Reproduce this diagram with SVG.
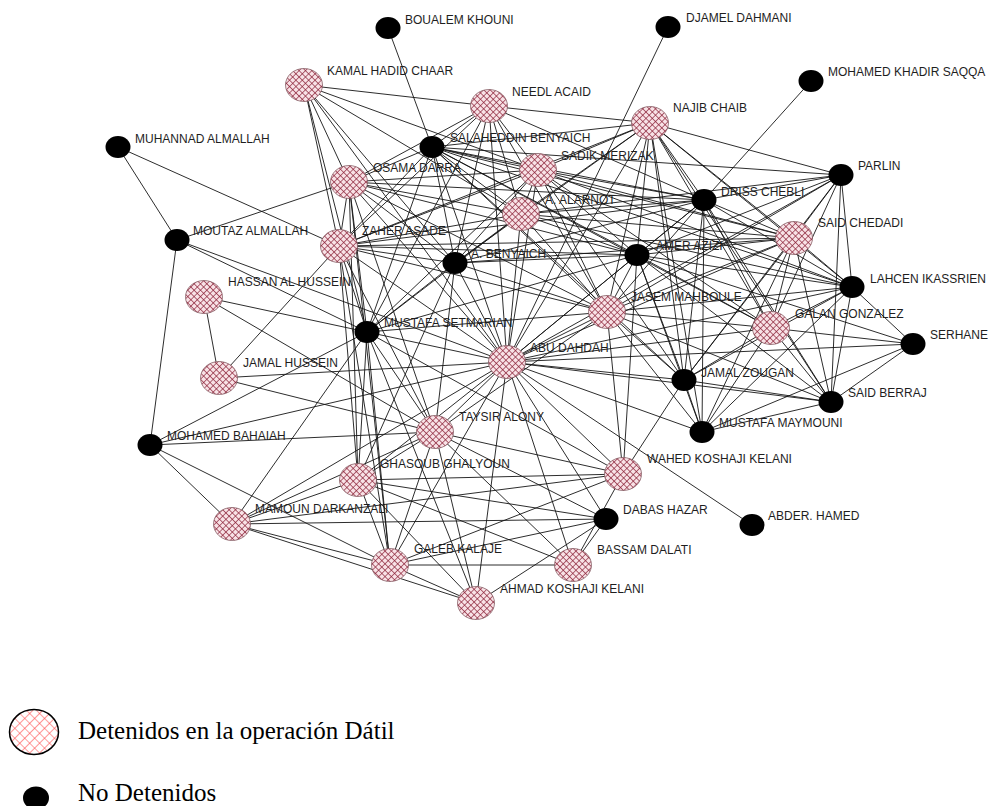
<svg xmlns="http://www.w3.org/2000/svg" width="988" height="806" viewBox="0 0 988 806">
<defs>
<pattern id="hatch" patternUnits="userSpaceOnUse" width="4.5" height="4.5" patternTransform="rotate(45)">
<rect width="4.5" height="4.5" fill="#f8e2e6"/>
<path d="M0 0H4.5M0 0V4.5" stroke="#8a1f35" stroke-width="1.3"/>
</pattern>
<pattern id="hatchL" patternUnits="userSpaceOnUse" width="7" height="7" patternTransform="rotate(45)">
<rect width="7" height="7" fill="#ffffff"/>
<path d="M0 0H7M0 0V7" stroke="#ff4040" stroke-width="1.1"/>
</pattern>
<style>
.e line{stroke:#151515;stroke-width:0.9}
.p ellipse{fill:url(#hatch);stroke:#7a5058;stroke-width:0.7}
.b ellipse{fill:#000}
.l{font-family:"Liberation Sans",Arial,sans-serif;font-size:12px;fill:#1e1e1e}
.lg{font-family:"Liberation Serif","Times New Roman",serif;font-size:25px;fill:#000}
</style>
</defs>
<rect width="988" height="806" fill="#fff"/>
<g id="connectors" class="e">
<line x1="388" y1="28" x2="432" y2="147"/>
<line x1="432" y1="147" x2="507" y2="362"/>
<line x1="668" y1="27" x2="507" y2="362"/>
<line x1="811" y1="81" x2="704" y2="200"/>
<line x1="118" y1="147" x2="177" y2="240"/>
<line x1="118" y1="147" x2="339" y2="246"/>
<line x1="177" y1="240" x2="349" y2="182"/>
<line x1="177" y1="240" x2="367" y2="332"/>
<line x1="177" y1="240" x2="507" y2="362"/>
<line x1="177" y1="240" x2="150" y2="445"/>
<line x1="204" y1="297" x2="219" y2="378"/>
<line x1="204" y1="297" x2="367" y2="332"/>
<line x1="204" y1="297" x2="435" y2="432"/>
<line x1="219" y1="378" x2="339" y2="246"/>
<line x1="219" y1="378" x2="507" y2="362"/>
<line x1="219" y1="378" x2="435" y2="432"/>
<line x1="150" y1="445" x2="367" y2="332"/>
<line x1="150" y1="445" x2="507" y2="362"/>
<line x1="150" y1="445" x2="435" y2="432"/>
<line x1="150" y1="445" x2="232" y2="524"/>
<line x1="150" y1="445" x2="390" y2="565"/>
<line x1="232" y1="524" x2="367" y2="332"/>
<line x1="232" y1="524" x2="358" y2="480"/>
<line x1="232" y1="524" x2="390" y2="565"/>
<line x1="232" y1="524" x2="476" y2="603"/>
<line x1="232" y1="524" x2="606" y2="519"/>
<line x1="232" y1="524" x2="507" y2="362"/>
<line x1="232" y1="524" x2="623" y2="474"/>
<line x1="232" y1="524" x2="435" y2="432"/>
<line x1="752" y1="525" x2="507" y2="362"/>
<line x1="913" y1="344" x2="852" y2="287"/>
<line x1="913" y1="344" x2="637" y2="255"/>
<line x1="913" y1="344" x2="507" y2="362"/>
<line x1="913" y1="344" x2="831" y2="402"/>
<line x1="913" y1="344" x2="702" y2="432"/>
<line x1="913" y1="344" x2="771" y2="328"/>
<line x1="432" y1="147" x2="349" y2="182"/>
<line x1="432" y1="147" x2="339" y2="246"/>
<line x1="432" y1="147" x2="367" y2="332"/>
<line x1="432" y1="147" x2="455" y2="263"/>
<line x1="432" y1="147" x2="538" y2="170"/>
<line x1="432" y1="147" x2="521" y2="214"/>
<line x1="432" y1="147" x2="489" y2="106"/>
<line x1="432" y1="147" x2="650" y2="123"/>
<line x1="432" y1="147" x2="704" y2="200"/>
<line x1="432" y1="147" x2="637" y2="255"/>
<line x1="432" y1="147" x2="607" y2="312"/>
<line x1="432" y1="147" x2="794" y2="238"/>
<line x1="432" y1="147" x2="852" y2="287"/>
<line x1="432" y1="147" x2="684" y2="380"/>
<line x1="432" y1="147" x2="841" y2="175"/>
<line x1="432" y1="147" x2="771" y2="328"/>
<line x1="538" y1="170" x2="489" y2="106"/>
<line x1="538" y1="170" x2="521" y2="214"/>
<line x1="538" y1="170" x2="349" y2="182"/>
<line x1="538" y1="170" x2="339" y2="246"/>
<line x1="538" y1="170" x2="455" y2="263"/>
<line x1="538" y1="170" x2="367" y2="332"/>
<line x1="538" y1="170" x2="507" y2="362"/>
<line x1="538" y1="170" x2="607" y2="312"/>
<line x1="538" y1="170" x2="637" y2="255"/>
<line x1="538" y1="170" x2="704" y2="200"/>
<line x1="538" y1="170" x2="794" y2="238"/>
<line x1="538" y1="170" x2="650" y2="123"/>
<line x1="538" y1="170" x2="852" y2="287"/>
<line x1="538" y1="170" x2="684" y2="380"/>
<line x1="538" y1="170" x2="304" y2="85"/>
<line x1="538" y1="170" x2="771" y2="328"/>
<line x1="521" y1="214" x2="489" y2="106"/>
<line x1="521" y1="214" x2="349" y2="182"/>
<line x1="521" y1="214" x2="339" y2="246"/>
<line x1="521" y1="214" x2="455" y2="263"/>
<line x1="521" y1="214" x2="367" y2="332"/>
<line x1="521" y1="214" x2="507" y2="362"/>
<line x1="521" y1="214" x2="607" y2="312"/>
<line x1="521" y1="214" x2="637" y2="255"/>
<line x1="521" y1="214" x2="704" y2="200"/>
<line x1="521" y1="214" x2="794" y2="238"/>
<line x1="521" y1="214" x2="852" y2="287"/>
<line x1="521" y1="214" x2="304" y2="85"/>
<line x1="521" y1="214" x2="650" y2="123"/>
<line x1="521" y1="214" x2="841" y2="175"/>
<line x1="489" y1="106" x2="349" y2="182"/>
<line x1="489" y1="106" x2="339" y2="246"/>
<line x1="489" y1="106" x2="455" y2="263"/>
<line x1="489" y1="106" x2="367" y2="332"/>
<line x1="489" y1="106" x2="507" y2="362"/>
<line x1="489" y1="106" x2="607" y2="312"/>
<line x1="489" y1="106" x2="650" y2="123"/>
<line x1="489" y1="106" x2="704" y2="200"/>
<line x1="489" y1="106" x2="304" y2="85"/>
<line x1="650" y1="123" x2="339" y2="246"/>
<line x1="650" y1="123" x2="704" y2="200"/>
<line x1="650" y1="123" x2="637" y2="255"/>
<line x1="650" y1="123" x2="607" y2="312"/>
<line x1="650" y1="123" x2="507" y2="362"/>
<line x1="650" y1="123" x2="684" y2="380"/>
<line x1="650" y1="123" x2="702" y2="432"/>
<line x1="650" y1="123" x2="852" y2="287"/>
<line x1="650" y1="123" x2="794" y2="238"/>
<line x1="650" y1="123" x2="771" y2="328"/>
<line x1="650" y1="123" x2="841" y2="175"/>
<line x1="650" y1="123" x2="831" y2="402"/>
<line x1="650" y1="123" x2="455" y2="263"/>
<line x1="704" y1="200" x2="455" y2="263"/>
<line x1="704" y1="200" x2="339" y2="246"/>
<line x1="704" y1="200" x2="349" y2="182"/>
<line x1="704" y1="200" x2="637" y2="255"/>
<line x1="704" y1="200" x2="607" y2="312"/>
<line x1="704" y1="200" x2="794" y2="238"/>
<line x1="704" y1="200" x2="852" y2="287"/>
<line x1="704" y1="200" x2="771" y2="328"/>
<line x1="704" y1="200" x2="684" y2="380"/>
<line x1="704" y1="200" x2="702" y2="432"/>
<line x1="704" y1="200" x2="507" y2="362"/>
<line x1="704" y1="200" x2="841" y2="175"/>
<line x1="704" y1="200" x2="831" y2="402"/>
<line x1="841" y1="175" x2="637" y2="255"/>
<line x1="841" y1="175" x2="607" y2="312"/>
<line x1="841" y1="175" x2="794" y2="238"/>
<line x1="841" y1="175" x2="771" y2="328"/>
<line x1="841" y1="175" x2="852" y2="287"/>
<line x1="841" y1="175" x2="831" y2="402"/>
<line x1="841" y1="175" x2="684" y2="380"/>
<line x1="841" y1="175" x2="507" y2="362"/>
<line x1="637" y1="255" x2="455" y2="263"/>
<line x1="637" y1="255" x2="339" y2="246"/>
<line x1="637" y1="255" x2="367" y2="332"/>
<line x1="637" y1="255" x2="607" y2="312"/>
<line x1="637" y1="255" x2="507" y2="362"/>
<line x1="637" y1="255" x2="794" y2="238"/>
<line x1="637" y1="255" x2="852" y2="287"/>
<line x1="637" y1="255" x2="771" y2="328"/>
<line x1="637" y1="255" x2="684" y2="380"/>
<line x1="637" y1="255" x2="702" y2="432"/>
<line x1="637" y1="255" x2="831" y2="402"/>
<line x1="637" y1="255" x2="623" y2="474"/>
<line x1="637" y1="255" x2="349" y2="182"/>
<line x1="607" y1="312" x2="507" y2="362"/>
<line x1="607" y1="312" x2="455" y2="263"/>
<line x1="607" y1="312" x2="339" y2="246"/>
<line x1="607" y1="312" x2="367" y2="332"/>
<line x1="607" y1="312" x2="349" y2="182"/>
<line x1="607" y1="312" x2="794" y2="238"/>
<line x1="607" y1="312" x2="852" y2="287"/>
<line x1="607" y1="312" x2="771" y2="328"/>
<line x1="607" y1="312" x2="684" y2="380"/>
<line x1="607" y1="312" x2="702" y2="432"/>
<line x1="607" y1="312" x2="435" y2="432"/>
<line x1="607" y1="312" x2="831" y2="402"/>
<line x1="607" y1="312" x2="623" y2="474"/>
<line x1="794" y1="238" x2="507" y2="362"/>
<line x1="794" y1="238" x2="684" y2="380"/>
<line x1="794" y1="238" x2="831" y2="402"/>
<line x1="794" y1="238" x2="702" y2="432"/>
<line x1="794" y1="238" x2="455" y2="263"/>
<line x1="794" y1="238" x2="771" y2="328"/>
<line x1="794" y1="238" x2="852" y2="287"/>
<line x1="794" y1="238" x2="339" y2="246"/>
<line x1="852" y1="287" x2="771" y2="328"/>
<line x1="852" y1="287" x2="831" y2="402"/>
<line x1="852" y1="287" x2="684" y2="380"/>
<line x1="852" y1="287" x2="507" y2="362"/>
<line x1="852" y1="287" x2="702" y2="432"/>
<line x1="771" y1="328" x2="831" y2="402"/>
<line x1="771" y1="328" x2="684" y2="380"/>
<line x1="771" y1="328" x2="702" y2="432"/>
<line x1="771" y1="328" x2="507" y2="362"/>
<line x1="831" y1="402" x2="684" y2="380"/>
<line x1="831" y1="402" x2="702" y2="432"/>
<line x1="831" y1="402" x2="507" y2="362"/>
<line x1="684" y1="380" x2="507" y2="362"/>
<line x1="684" y1="380" x2="702" y2="432"/>
<line x1="702" y1="432" x2="507" y2="362"/>
<line x1="455" y1="263" x2="349" y2="182"/>
<line x1="455" y1="263" x2="339" y2="246"/>
<line x1="455" y1="263" x2="367" y2="332"/>
<line x1="455" y1="263" x2="507" y2="362"/>
<line x1="455" y1="263" x2="435" y2="432"/>
<line x1="455" y1="263" x2="358" y2="480"/>
<line x1="455" y1="263" x2="304" y2="85"/>
<line x1="349" y1="182" x2="304" y2="85"/>
<line x1="349" y1="182" x2="339" y2="246"/>
<line x1="349" y1="182" x2="367" y2="332"/>
<line x1="349" y1="182" x2="507" y2="362"/>
<line x1="349" y1="182" x2="358" y2="480"/>
<line x1="349" y1="182" x2="435" y2="432"/>
<line x1="349" y1="182" x2="390" y2="565"/>
<line x1="339" y1="246" x2="304" y2="85"/>
<line x1="339" y1="246" x2="367" y2="332"/>
<line x1="339" y1="246" x2="507" y2="362"/>
<line x1="339" y1="246" x2="358" y2="480"/>
<line x1="339" y1="246" x2="435" y2="432"/>
<line x1="339" y1="246" x2="390" y2="565"/>
<line x1="367" y1="332" x2="304" y2="85"/>
<line x1="367" y1="332" x2="507" y2="362"/>
<line x1="367" y1="332" x2="435" y2="432"/>
<line x1="367" y1="332" x2="358" y2="480"/>
<line x1="367" y1="332" x2="390" y2="565"/>
<line x1="367" y1="332" x2="623" y2="474"/>
<line x1="367" y1="332" x2="476" y2="603"/>
<line x1="304" y1="85" x2="507" y2="362"/>
<line x1="507" y1="362" x2="435" y2="432"/>
<line x1="507" y1="362" x2="358" y2="480"/>
<line x1="507" y1="362" x2="623" y2="474"/>
<line x1="507" y1="362" x2="390" y2="565"/>
<line x1="507" y1="362" x2="573" y2="565"/>
<line x1="507" y1="362" x2="476" y2="603"/>
<line x1="507" y1="362" x2="606" y2="519"/>
<line x1="435" y1="432" x2="358" y2="480"/>
<line x1="435" y1="432" x2="390" y2="565"/>
<line x1="435" y1="432" x2="476" y2="603"/>
<line x1="435" y1="432" x2="573" y2="565"/>
<line x1="435" y1="432" x2="623" y2="474"/>
<line x1="435" y1="432" x2="606" y2="519"/>
<line x1="358" y1="480" x2="390" y2="565"/>
<line x1="358" y1="480" x2="476" y2="603"/>
<line x1="358" y1="480" x2="573" y2="565"/>
<line x1="358" y1="480" x2="606" y2="519"/>
<line x1="358" y1="480" x2="623" y2="474"/>
<line x1="390" y1="565" x2="476" y2="603"/>
<line x1="390" y1="565" x2="573" y2="565"/>
<line x1="390" y1="565" x2="606" y2="519"/>
<line x1="390" y1="565" x2="623" y2="474"/>
<line x1="476" y1="603" x2="606" y2="519"/>
<line x1="573" y1="565" x2="606" y2="519"/>
<line x1="573" y1="565" x2="623" y2="474"/>
<line x1="684" y1="380" x2="623" y2="474"/>
</g>
<g id="n-kamal-hadid-chaar" class="p"><ellipse cx="304" cy="85" rx="18.5" ry="16.5"/><text class="l" x="327" y="75">KAMAL HADID CHAAR</text></g>
<g id="n-needl-acaid" class="p"><ellipse cx="489" cy="106" rx="18.5" ry="16.5"/><text class="l" x="512" y="96">NEEDL ACAID</text></g>
<g id="n-najib-chaib" class="p"><ellipse cx="650" cy="123" rx="18.5" ry="16.5"/><text class="l" x="673" y="112">NAJIB CHAIB</text></g>
<g id="n-osama-darra" class="p"><ellipse cx="349" cy="182" rx="18.5" ry="16.5"/><text class="l" x="373" y="172">OSAMA DARRA</text></g>
<g id="n-sadik-merizak" class="p"><ellipse cx="538" cy="170" rx="18.5" ry="16.5"/><text class="l" x="561" y="160">SADIK MERIZAK</text></g>
<g id="n-a-alarnot" class="p"><ellipse cx="521" cy="214" rx="18.5" ry="16.5"/><text class="l" x="545" y="204">A. ALARNOT</text></g>
<g id="n-zaher-asade" class="p"><ellipse cx="339" cy="246" rx="18.5" ry="16.5"/><text class="l" x="362" y="235">ZAHER ASADE</text></g>
<g id="n-said-chedadi" class="p"><ellipse cx="794" cy="238" rx="18.5" ry="16.5"/><text class="l" x="818" y="227">SAID CHEDADI</text></g>
<g id="n-hassan-al-hussein" class="p"><ellipse cx="204" cy="297" rx="18.5" ry="16.5"/><text class="l" x="228" y="286">HASSAN AL HUSSEIN</text></g>
<g id="n-jasem-mahboule" class="p"><ellipse cx="607" cy="312" rx="18.5" ry="16.5"/><text class="l" x="631" y="301">JASEM MAHBOULE</text></g>
<g id="n-galan-gonzalez" class="p"><ellipse cx="771" cy="328" rx="18.5" ry="16.5"/><text class="l" x="795" y="318">GALAN GONZALEZ</text></g>
<g id="n-abu-dahdah" class="p"><ellipse cx="507" cy="362" rx="18.5" ry="16.5"/><text class="l" x="530" y="352">ABU DAHDAH</text></g>
<g id="n-jamal-hussein" class="p"><ellipse cx="219" cy="378" rx="18.5" ry="16.5"/><text class="l" x="243" y="367">JAMAL HUSSEIN</text></g>
<g id="n-taysir-alony" class="p"><ellipse cx="435" cy="432" rx="18.5" ry="16.5"/><text class="l" x="459" y="421">TAYSIR ALONY</text></g>
<g id="n-ghasoub-ghalyoun" class="p"><ellipse cx="358" cy="480" rx="18.5" ry="16.5"/><text class="l" x="380" y="468">GHASOUB GHALYOUN</text></g>
<g id="n-wahed-koshaji-kelani" class="p"><ellipse cx="623" cy="474" rx="18.5" ry="16.5"/><text class="l" x="647" y="463">WAHED KOSHAJI KELANI</text></g>
<g id="n-mamoun-darkanzali" class="p"><ellipse cx="232" cy="524" rx="18.5" ry="16.5"/><text class="l" x="255" y="513">MAMOUN DARKANZALI</text></g>
<g id="n-galeb-kalaje" class="p"><ellipse cx="390" cy="565" rx="18.5" ry="16.5"/><text class="l" x="414" y="553">GALEB KALAJE</text></g>
<g id="n-bassam-dalati" class="p"><ellipse cx="573" cy="565" rx="18.5" ry="16.5"/><text class="l" x="597" y="554">BASSAM DALATI</text></g>
<g id="n-ahmad-koshaji-kelani" class="p"><ellipse cx="476" cy="603" rx="18.5" ry="16.5"/><text class="l" x="500" y="593">AHMAD KOSHAJI KELANI</text></g>
<g id="n-boualem-khouni" class="b"><ellipse cx="388" cy="28" rx="12.5" ry="11"/><text class="l" x="405" y="24">BOUALEM KHOUNI</text></g>
<g id="n-djamel-dahmani" class="b"><ellipse cx="668" cy="27" rx="12.5" ry="11"/><text class="l" x="686" y="22">DJAMEL DAHMANI</text></g>
<g id="n-mohamed-khadir-saqqa" class="b"><ellipse cx="811" cy="81" rx="12.5" ry="11"/><text class="l" x="828" y="76">MOHAMED KHADIR SAQQA</text></g>
<g id="n-muhannad-almallah" class="b"><ellipse cx="118" cy="147" rx="12.5" ry="11"/><text class="l" x="135" y="143">MUHANNAD ALMALLAH</text></g>
<g id="n-salaheddin-benyaich" class="b"><ellipse cx="432" cy="147" rx="12.5" ry="11"/><text class="l" x="450" y="142">SALAHEDDIN BENYAICH</text></g>
<g id="n-parlin" class="b"><ellipse cx="841" cy="175" rx="12.5" ry="11"/><text class="l" x="858" y="170">PARLIN</text></g>
<g id="n-driss-chebli" class="b"><ellipse cx="704" cy="200" rx="12.5" ry="11"/><text class="l" x="721" y="196">DRISS CHEBLI</text></g>
<g id="n-moutaz-almallah" class="b"><ellipse cx="177" cy="240" rx="12.5" ry="11"/><text class="l" x="193" y="235">MOUTAZ ALMALLAH</text></g>
<g id="n-a-benyaich" class="b"><ellipse cx="455" cy="263" rx="12.5" ry="11"/><text class="l" x="471" y="258">A. BENYAICH</text></g>
<g id="n-amer-azizi" class="b"><ellipse cx="637" cy="255" rx="12.5" ry="11"/><text class="l" x="656" y="250">AMER AZIZI</text></g>
<g id="n-lahcen-ikassrien" class="b"><ellipse cx="852" cy="287" rx="12.5" ry="11"/><text class="l" x="870" y="283">LAHCEN IKASSRIEN</text></g>
<g id="n-mustafa-setmarian" class="b"><ellipse cx="367" cy="332" rx="12.5" ry="11"/><text class="l" x="384" y="327">MUSTAFA SETMARIAN</text></g>
<g id="n-serhane" class="b"><ellipse cx="913" cy="344" rx="12.5" ry="11"/><text class="l" x="930" y="339">SERHANE</text></g>
<g id="n-jamal-zougan" class="b"><ellipse cx="684" cy="380" rx="12.5" ry="11"/><text class="l" x="701" y="377">JAMAL ZOUGAN</text></g>
<g id="n-said-berraj" class="b"><ellipse cx="831" cy="402" rx="12.5" ry="11"/><text class="l" x="848" y="397">SAID BERRAJ</text></g>
<g id="n-mustafa-maymouni" class="b"><ellipse cx="702" cy="432" rx="12.5" ry="11"/><text class="l" x="719" y="427">MUSTAFA MAYMOUNI</text></g>
<g id="n-mohamed-bahaiah" class="b"><ellipse cx="150" cy="445" rx="12.5" ry="11"/><text class="l" x="167" y="440">MOHAMED BAHAIAH</text></g>
<g id="n-dabas-hazar" class="b"><ellipse cx="606" cy="519" rx="12.5" ry="11"/><text class="l" x="623" y="514">DABAS HAZAR</text></g>
<g id="n-abder-hamed" class="b"><ellipse cx="752" cy="525" rx="12.5" ry="11"/><text class="l" x="768" y="520">ABDER. HAMED</text></g>
<g id="legend">
<ellipse cx="34" cy="732" rx="24.5" ry="22.5" fill="url(#hatchL)" stroke="#000" stroke-width="1.5"/>
<text class="lg" x="78" y="739">Detenidos en la operación Dátil</text>
<ellipse cx="36" cy="798" rx="13" ry="11.5" fill="#000"/>
<text class="lg" x="78" y="801">No Detenidos</text>
</g>
</svg>
